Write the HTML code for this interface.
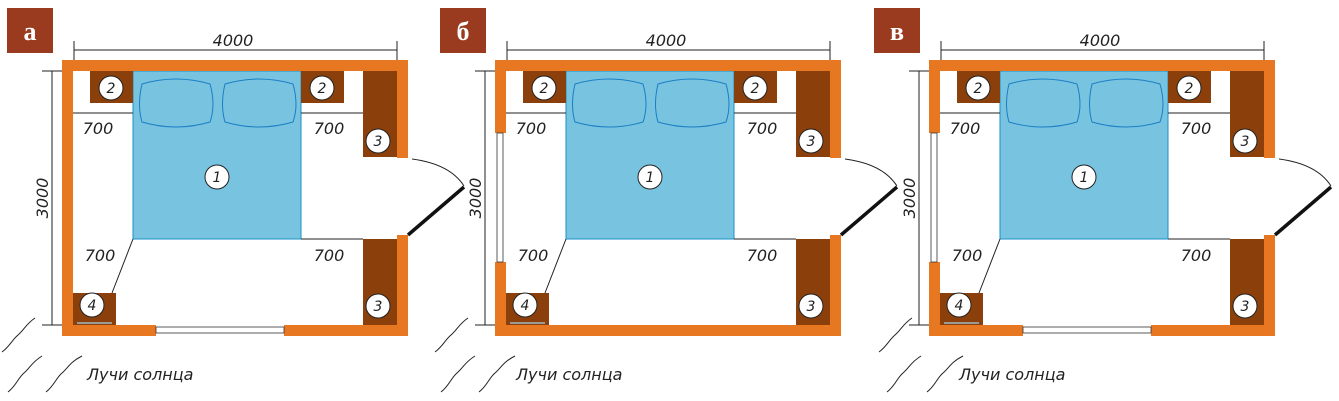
<!DOCTYPE html>
<html><head><meta charset="utf-8"><style>
html,body{margin:0;padding:0;background:#fff;}
svg{display:block;}
.t{font-family:"DejaVu Sans","Liberation Sans",sans-serif;font-style:italic;font-size:16px;fill:#222;}
.n{font-family:"DejaVu Sans","Liberation Sans",sans-serif;font-style:italic;font-size:14px;fill:#222;text-anchor:middle;}
.lb{font-family:"Liberation Serif",serif;font-weight:bold;font-size:26px;fill:#fff;text-anchor:middle;}
</style></head><body>
<svg width="1339" height="401" viewBox="0 0 1339 401" xmlns="http://www.w3.org/2000/svg">
<!-- PANEL A -->
<g transform="translate(0,0)">
<rect x="7" y="8" width="46" height="45" fill="#9a3b1f"/><text x="30" y="40" class="lb">а</text>
<line x1="74" y1="50" x2="397" y2="50" stroke="#222" stroke-width="1"/>
<line x1="74" y1="41" x2="74" y2="71" stroke="#222"/><line x1="397" y1="41" x2="397" y2="71" stroke="#222"/>
<text x="233" y="46" class="t" text-anchor="middle">4000</text>
<line x1="52" y1="71" x2="52" y2="325" stroke="#222"/>
<line x1="42" y1="71" x2="73" y2="71" stroke="#222"/><line x1="42" y1="325" x2="73" y2="325" stroke="#222"/>
<text transform="translate(48,198) rotate(-90)" class="t" text-anchor="middle">3000</text>
<rect x="133" y="71" width="168" height="168" fill="#78c4e0" stroke="#1a90c8" stroke-width="1"/>
<path d="M142,84 Q176,74 210,84 Q216,105 210,122 Q176,132 142,122 Q137,105 142,84Z" fill="none" stroke="#1a7ec4"/>
<path d="M225,84 Q259,74 293,84 Q299,105 293,122 Q259,132 225,122 Q220,105 225,84Z" fill="none" stroke="#1a7ec4"/>
<rect x="90" y="71" width="43" height="32" fill="#8b3f0b"/><rect x="301" y="71" width="43" height="32" fill="#8b3f0b"/>
<rect x="363" y="71" width="34" height="86" fill="#8b3f0b"/><rect x="363" y="239" width="34" height="86" fill="#8b3f0b"/>
<rect x="73" y="293" width="43" height="32" fill="#8b3f0b"/><line x1="77" y1="323" x2="112" y2="323" stroke="#999" stroke-width="2"/>
<rect x="62" y="60" width="346" height="11" fill="#e87722"/>
<rect x="62" y="60" width="11" height="276" fill="#e87722"/>
<rect x="397" y="60" width="11" height="98" fill="#e87722"/>
<rect x="397" y="235" width="11" height="101" fill="#e87722"/>
<rect x="62" y="325" width="94" height="11" fill="#e87722"/><rect x="284" y="325" width="124" height="11" fill="#e87722"/>
<rect x="156" y="327" width="128" height="6" fill="#fff" stroke="#333" stroke-width="0.8"/>
<path d="M412,159 Q450,164 464,186" fill="none" stroke="#222"/>
<line x1="408" y1="235" x2="464" y2="187" stroke="#111" stroke-width="3.5"/>
<line x1="73" y1="113" x2="133" y2="113" stroke="#222"/><line x1="301" y1="113" x2="363" y2="113" stroke="#222"/>
<line x1="301" y1="239" x2="363" y2="239" stroke="#222"/><line x1="133" y1="239" x2="112" y2="293" stroke="#222"/>
<text x="98" y="134" class="t" text-anchor="middle">700</text><text x="329" y="134" class="t" text-anchor="middle">700</text>
<text x="100" y="261" class="t" text-anchor="middle">700</text><text x="329" y="261" class="t" text-anchor="middle">700</text>
<g fill="#fff" stroke="#222" stroke-width="1"><circle cx="111" cy="88" r="12"/><circle cx="322" cy="88" r="12"/><circle cx="217" cy="177" r="12"/><circle cx="378" cy="141" r="12"/><circle cx="378" cy="306" r="12"/><circle cx="92" cy="305" r="12"/></g>
<text x="111" y="93" class="n">2</text><text x="322" y="93" class="n">2</text><text x="217" y="182" class="n">1</text><text x="378" y="146" class="n">3</text><text x="378" y="311" class="n">3</text><text x="92" y="310" class="n">4</text>
<g fill="none" stroke="#222" stroke-width="1"><path d="M2,352 C10,346 12,340 18,335 S26,324 35,318"/><path d="M8,392 C16,386 18,378 24,373 S32,362 42,356"/><path d="M46,392 C54,386 56,378 62,373 S70,362 82,356"/></g>
<text x="87" y="380" class="t">Лучи солнца</text>
</g>
<!-- PANEL B -->
<g transform="translate(433,0)">
<rect x="7" y="8" width="46" height="45" fill="#9a3b1f"/><text x="30" y="40" class="lb">б</text>
<line x1="74" y1="50" x2="397" y2="50" stroke="#222" stroke-width="1"/>
<line x1="74" y1="41" x2="74" y2="71" stroke="#222"/><line x1="397" y1="41" x2="397" y2="71" stroke="#222"/>
<text x="233" y="46" class="t" text-anchor="middle">4000</text>
<line x1="52" y1="71" x2="52" y2="325" stroke="#222"/>
<line x1="42" y1="71" x2="73" y2="71" stroke="#222"/><line x1="42" y1="325" x2="73" y2="325" stroke="#222"/>
<text transform="translate(48,198) rotate(-90)" class="t" text-anchor="middle">3000</text>
<rect x="133" y="71" width="168" height="168" fill="#78c4e0" stroke="#1a90c8" stroke-width="1"/>
<path d="M142,84 Q176,74 210,84 Q216,105 210,122 Q176,132 142,122 Q137,105 142,84Z" fill="none" stroke="#1a7ec4"/>
<path d="M225,84 Q259,74 293,84 Q299,105 293,122 Q259,132 225,122 Q220,105 225,84Z" fill="none" stroke="#1a7ec4"/>
<rect x="90" y="71" width="43" height="32" fill="#8b3f0b"/><rect x="301" y="71" width="43" height="32" fill="#8b3f0b"/>
<rect x="363" y="71" width="34" height="86" fill="#8b3f0b"/><rect x="363" y="239" width="34" height="86" fill="#8b3f0b"/>
<rect x="73" y="293" width="43" height="32" fill="#8b3f0b"/><line x1="77" y1="323" x2="112" y2="323" stroke="#999" stroke-width="2"/>
<rect x="62" y="60" width="346" height="11" fill="#e87722"/>
<rect x="62" y="60" width="11" height="73" fill="#e87722"/><rect x="62" y="262" width="11" height="74" fill="#e87722"/>
<rect x="64" y="133" width="6" height="129" fill="#fff" stroke="#333" stroke-width="0.8"/>
<rect x="397" y="60" width="11" height="98" fill="#e87722"/>
<rect x="397" y="235" width="11" height="101" fill="#e87722"/>
<rect x="62" y="325" width="346" height="11" fill="#e87722"/>
<path d="M412,159 Q450,164 464,186" fill="none" stroke="#222"/>
<line x1="408" y1="235" x2="464" y2="187" stroke="#111" stroke-width="3.5"/>
<line x1="73" y1="113" x2="133" y2="113" stroke="#222"/><line x1="301" y1="113" x2="363" y2="113" stroke="#222"/>
<line x1="301" y1="239" x2="363" y2="239" stroke="#222"/><line x1="133" y1="239" x2="112" y2="293" stroke="#222"/>
<text x="98" y="134" class="t" text-anchor="middle">700</text><text x="329" y="134" class="t" text-anchor="middle">700</text>
<text x="100" y="261" class="t" text-anchor="middle">700</text><text x="329" y="261" class="t" text-anchor="middle">700</text>
<g fill="#fff" stroke="#222" stroke-width="1"><circle cx="111" cy="88" r="12"/><circle cx="322" cy="88" r="12"/><circle cx="217" cy="177" r="12"/><circle cx="378" cy="141" r="12"/><circle cx="378" cy="306" r="12"/><circle cx="92" cy="305" r="12"/></g>
<text x="111" y="93" class="n">2</text><text x="322" y="93" class="n">2</text><text x="217" y="182" class="n">1</text><text x="378" y="146" class="n">3</text><text x="378" y="311" class="n">3</text><text x="92" y="310" class="n">4</text>
<g fill="none" stroke="#222" stroke-width="1"><path d="M2,352 C10,346 12,340 18,335 S26,324 35,318"/><path d="M8,392 C16,386 18,378 24,373 S32,362 42,356"/><path d="M46,392 C54,386 56,378 62,373 S70,362 82,356"/></g>
<text x="83" y="380" class="t">Лучи солнца</text>
</g>
<!-- PANEL C -->
<g transform="translate(867,0)">
<rect x="7" y="8" width="46" height="45" fill="#9a3b1f"/><text x="30" y="40" class="lb">в</text>
<line x1="74" y1="50" x2="397" y2="50" stroke="#222" stroke-width="1"/>
<line x1="74" y1="41" x2="74" y2="71" stroke="#222"/><line x1="397" y1="41" x2="397" y2="71" stroke="#222"/>
<text x="233" y="46" class="t" text-anchor="middle">4000</text>
<line x1="52" y1="71" x2="52" y2="325" stroke="#222"/>
<line x1="42" y1="71" x2="73" y2="71" stroke="#222"/><line x1="42" y1="325" x2="73" y2="325" stroke="#222"/>
<text transform="translate(48,198) rotate(-90)" class="t" text-anchor="middle">3000</text>
<rect x="133" y="71" width="168" height="168" fill="#78c4e0" stroke="#1a90c8" stroke-width="1"/>
<path d="M142,84 Q176,74 210,84 Q216,105 210,122 Q176,132 142,122 Q137,105 142,84Z" fill="none" stroke="#1a7ec4"/>
<path d="M225,84 Q259,74 293,84 Q299,105 293,122 Q259,132 225,122 Q220,105 225,84Z" fill="none" stroke="#1a7ec4"/>
<rect x="90" y="71" width="43" height="32" fill="#8b3f0b"/><rect x="301" y="71" width="43" height="32" fill="#8b3f0b"/>
<rect x="363" y="71" width="34" height="86" fill="#8b3f0b"/><rect x="363" y="239" width="34" height="86" fill="#8b3f0b"/>
<rect x="73" y="293" width="43" height="32" fill="#8b3f0b"/><line x1="77" y1="323" x2="112" y2="323" stroke="#999" stroke-width="2"/>
<rect x="62" y="60" width="346" height="11" fill="#e87722"/>
<rect x="62" y="60" width="11" height="73" fill="#e87722"/><rect x="62" y="262" width="11" height="74" fill="#e87722"/>
<rect x="64" y="133" width="6" height="129" fill="#fff" stroke="#333" stroke-width="0.8"/>
<rect x="397" y="60" width="11" height="98" fill="#e87722"/>
<rect x="397" y="235" width="11" height="101" fill="#e87722"/>
<rect x="62" y="325" width="94" height="11" fill="#e87722"/><rect x="284" y="325" width="124" height="11" fill="#e87722"/>
<rect x="156" y="327" width="128" height="6" fill="#fff" stroke="#333" stroke-width="0.8"/>
<path d="M412,159 Q450,164 464,186" fill="none" stroke="#222"/>
<line x1="408" y1="235" x2="464" y2="187" stroke="#111" stroke-width="3.5"/>
<line x1="73" y1="113" x2="133" y2="113" stroke="#222"/><line x1="301" y1="113" x2="363" y2="113" stroke="#222"/>
<line x1="301" y1="239" x2="363" y2="239" stroke="#222"/><line x1="133" y1="239" x2="112" y2="293" stroke="#222"/>
<text x="98" y="134" class="t" text-anchor="middle">700</text><text x="329" y="134" class="t" text-anchor="middle">700</text>
<text x="100" y="261" class="t" text-anchor="middle">700</text><text x="329" y="261" class="t" text-anchor="middle">700</text>
<g fill="#fff" stroke="#222" stroke-width="1"><circle cx="111" cy="88" r="12"/><circle cx="322" cy="88" r="12"/><circle cx="217" cy="177" r="12"/><circle cx="378" cy="141" r="12"/><circle cx="378" cy="306" r="12"/><circle cx="92" cy="305" r="12"/></g>
<text x="111" y="93" class="n">2</text><text x="322" y="93" class="n">2</text><text x="217" y="182" class="n">1</text><text x="378" y="146" class="n">3</text><text x="378" y="311" class="n">3</text><text x="92" y="310" class="n">4</text>
<g fill="none" stroke="#222" stroke-width="1"><path d="M12,352 C20,346 22,340 28,335 S36,324 45,318"/><path d="M20,392 C28,386 30,378 36,373 S44,362 54,356"/><path d="M60,392 C68,386 70,378 76,373 S84,362 96,356"/></g>
<text x="92" y="380" class="t">Лучи солнца</text>
</g>
</svg>
</body></html>
